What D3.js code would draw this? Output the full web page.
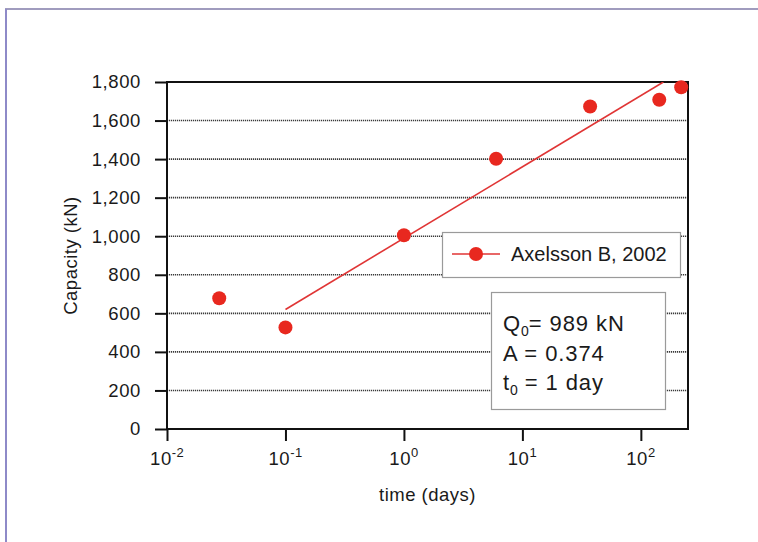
<!DOCTYPE html>
<html>
<head>
<meta charset="utf-8">
<script src="https://cdn.jsdelivr.net/npm/d3@7"></script>
<style>
  body { margin: 0; background: #fff; }
  svg text { font-family: "Liberation Sans", Arial, Helvetica, sans-serif; fill: #1a1a1a; }
</style>
</head>
<body>
<div id="chart"></div>
<script>
// measured points (time in days, capacity in kN)
var timeDays = [0.0276, 0.1, 1, 6.0, 37.3, 143, 219];
var capacityKN = [678, 527, 1005, 1402, 1673, 1708, 1773];

// fitted line end points
var fitTime = [0.1, 155];
var fitCapacity = [620, 1800];

var yMajorTicks = [0, 200, 400, 600, 800, 1000, 1200, 1400, 1600, 1800];
var xDecades = [-2, -1, 0, 1, 2];
var xMinorMultipliers = [2, 4, 6, 8];

var seriesName = "Axelsson B, 2002";
var notes = [
    {main: "Q", sub: "0", rest: "= 989 kN"},
    {main: "A = 0.374", sub: null, rest: ""},
    {main: "t", sub: "0", rest: " = 1 day"}
];

var width = 758, height = 542;
var margin = {top: 82, left: 167, right: 70, bottom: 113};
var red = "#e8281f";

var svg = d3.select("#chart").append("svg")
    .attr("width", width).attr("height", height);

// page frame
svg.append("line").attr("x1", 5).attr("x2", width).attr("y1", 9).attr("y2", 9)
    .attr("stroke", "#a09cbe").attr("stroke-width", 2);
svg.append("line").attr("x1", 6).attr("x2", 6).attr("y1", 9).attr("y2", height)
    .attr("stroke", "#8e8ac8").attr("stroke-width", 2);

var x = d3.scaleLog().domain([0.01, 250]).range([margin.left, width - margin.right]);
var y = d3.scaleLinear().domain([0, 1800]).range([height - margin.bottom, margin.top]);

var x0 = x.range()[0], x1 = x.range()[1], y0 = y.range()[0], y1 = y.range()[1];

svg.append("clipPath").attr("id", "plotclip")
    .append("rect").attr("x", x0).attr("y", y1).attr("width", x1 - x0).attr("height", y0 - y1);

// grid
svg.append("g").selectAll("line")
    .data(yMajorTicks.filter(function(d) { return d > 0 && d < 1800; }))
    .enter().append("line")
    .attr("x1", x0).attr("x2", x1)
    .attr("y1", function(d) { return y(d); }).attr("y2", function(d) { return y(d); })
    .attr("stroke", "#3a3a3a").attr("stroke-width", 1.6).attr("stroke-dasharray", "1.2,0.8");

// y axis
var yMinor = d3.range(0, 1801, 50).filter(function(d) { return d % 200 !== 0; });
var yAxis = svg.append("g").attr("transform", "translate(" + x0 + ",0)");
yAxis.call(d3.axisLeft(y).tickValues(yMinor).tickSize(6).tickFormat(""));
yAxis.call(d3.axisLeft(y).tickValues(yMajorTicks).tickSize(12).tickPadding(14)
    .tickFormat(d3.format(",")));
yAxis.selectAll(".domain").remove();
yAxis.selectAll("line").attr("stroke", "#111").attr("stroke-width", 2);
yAxis.selectAll("text").attr("font-size", 18.5).attr("letter-spacing", 0.6).attr("fill", "#1a1a1a")
    .attr("font-family", "'Liberation Sans', Arial, sans-serif");

// x axis
var xMajor = xDecades.map(function(e) { return Math.pow(10, e); });
var xMinor = [];
xDecades.forEach(function(e) {
    xMinorMultipliers.forEach(function(m) {
        var v = m * Math.pow(10, e);
        if (v <= 250) xMinor.push(v);
    });
});
var xAxis = svg.append("g").attr("transform", "translate(0," + y0 + ")");
xAxis.call(d3.axisBottom(x).tickValues(xMinor).tickSize(6).tickFormat(""));
xAxis.call(d3.axisBottom(x).tickValues(xMajor).tickSize(12).tickFormat(""));
xAxis.selectAll(".domain").remove();
xAxis.selectAll("line").attr("stroke", "#111").attr("stroke-width", 2);

var xLabels = svg.append("g").selectAll("text")
    .data(xDecades).enter().append("text")
    .attr("x", function(d) { return x(Math.pow(10, d)); })
    .attr("y", y0 + 36)
    .attr("text-anchor", "middle")
    .attr("font-size", 18.5).attr("letter-spacing", 0.6);
xLabels.append("tspan").text("10");
xLabels.append("tspan").attr("font-size", 13).attr("dy", -8).attr("letter-spacing", 0.3)
    .text(function(d) { return d; });

// plot box
svg.append("rect").attr("x", x0).attr("y", y1).attr("width", x1 - x0).attr("height", y0 - y1)
    .attr("fill", "none").attr("stroke", "#111").attr("stroke-width", 2);

// axis titles
svg.append("text").attr("x", (x0 + x1) / 2).attr("y", y0 + 72)
    .attr("text-anchor", "middle").attr("font-size", 18.5).attr("letter-spacing", 0.5)
    .text("time (days)");
svg.append("text")
    .attr("transform", "translate(77," + ((y0 + y1) / 2) + ") rotate(-90)")
    .attr("text-anchor", "middle").attr("font-size", 18.5).attr("letter-spacing", 0.5)
    .text("Capacity (kN)");

// fitted line
var line = d3.line()
    .x(function(d) { return x(d[0]); })
    .y(function(d) { return y(d[1]); });
svg.append("path")
    .datum(d3.zip(fitTime, fitCapacity))
    .attr("clip-path", "url(#plotclip)")
    .attr("d", line)
    .attr("fill", "none").attr("stroke", "#e03535").attr("stroke-width", 1.6);

// points
svg.append("g").selectAll("circle")
    .data(d3.zip(timeDays, capacityKN))
    .enter().append("circle")
    .attr("cx", function(d) { return x(d[0]); })
    .attr("cy", function(d) { return y(d[1]); })
    .attr("r", 7)
    .attr("fill", red);

// legend
var legend = svg.append("g");
legend.append("rect").attr("x", 442.5).attr("y", 232.5).attr("width", 238).attr("height", 45)
    .attr("fill", "#fff").attr("stroke", "#9a9a9a").attr("stroke-width", 1.2);
legend.append("line").attr("x1", 452).attr("x2", 500).attr("y1", 254).attr("y2", 254)
    .attr("stroke", "#e03535").attr("stroke-width", 1.6);
legend.append("circle").attr("cx", 476).attr("cy", 254).attr("r", 7).attr("fill", red);
legend.append("text").attr("x", 511).attr("y", 261).attr("font-size", 20).text(seriesName);

// parameter box
var note = svg.append("g");
note.append("rect").attr("x", 491.5).attr("y", 292.5).attr("width", 174).attr("height", 117)
    .attr("fill", "#fff").attr("stroke", "#9a9a9a").attr("stroke-width", 1.2);
var noteText = note.selectAll("text").data(notes).enter().append("text")
    .attr("x", 503)
    .attr("y", function(d, i) { return 331 + i * 29.5; })
    .attr("font-size", 22).attr("letter-spacing", 0.9);
noteText.append("tspan").text(function(d) { return d.main; });
noteText.filter(function(d) { return d.sub; }).append("tspan")
    .attr("font-size", 14).attr("dy", 5).attr("letter-spacing", 0)
    .text(function(d) { return d.sub; });
noteText.filter(function(d) { return d.sub; }).append("tspan")
    .attr("dy", -5)
    .text(function(d) { return d.rest; });
</script>
</body>
</html>
